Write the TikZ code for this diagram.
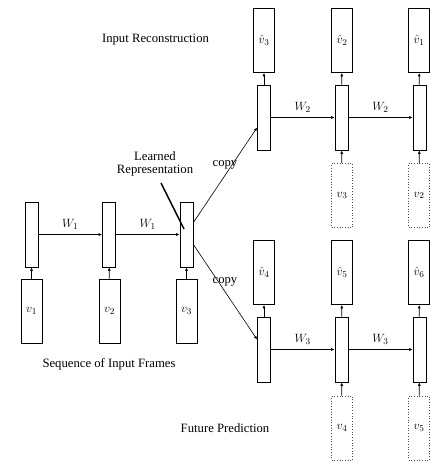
\documentclass[tikz,border=0pt]{standalone}
\usepackage{fontspec}
\setmainfont{Liberation Serif}
\usetikzlibrary{arrows.meta}
\begin{document}
\begin{tikzpicture}[x=1pt,y=-1pt,
  every node/.style={font=\fontsize{12.7}{14}\selectfont},
  hid/.style={draw, line width=0.8pt, minimum width=13pt, minimum height=65pt, inner sep=0pt},
  inp/.style={draw, line width=0.8pt, minimum width=21pt, minimum height=64pt, inner sep=0pt},
  fut/.style={draw=black!70, dotted, line width=0.7pt, minimum width=21pt, minimum height=64pt, inner sep=0pt},
  arr/.style={-{Latex[length=3.5pt,width=3pt]}, line width=0.6pt},
  lbl/.style={inner sep=0pt}]
\useasboundingbox (0,0) rectangle (442,465);
% left encoder
\node[hid] (h1) at (31.5,234.5) {};
\node[hid] (h2) at (109,234.5) {};
\node[hid] (h3) at (186.5,234.5) {};
\node[inp] (i1) at (31.5,311) {$v_1$};
\node[inp] (i2) at (109.5,311) {$v_2$};
\node[inp] (i3) at (186.5,311) {$v_3$};
\draw[arr] (i1) -- (h1);
\draw[arr] (i2) -- (h2);
\draw[arr] (i3) -- (h3);
\draw[arr] (h1) -- node[lbl, above=5pt] {$W_1$} (h2);
\draw[arr] (h2) -- node[lbl, above=5pt] {$W_1$} (h3);
\node[lbl, align=center] (lr) at (155,164) {Learned\\[-1pt]Representation};
\coordinate (lrs) at (161,183);
\coordinate (lre) at (184,229);
\draw[line width=1.5pt] (lrs) -- (lre);
\node[lbl] (seq) at (109,364) {Sequence of Input Frames};
% upper decoder
\node[hid] (u1) at (264,117.5) {};
\node[hid] (u2) at (341.5,117.5) {};
\node[hid] (u3) at (419.5,117.5) {};
\node[inp] (o1) at (264,40.5) {$\hat{v}_3$};
\node[inp] (o2) at (342,40.5) {$\hat{v}_2$};
\node[inp] (o3) at (419,40.5) {$\hat{v}_1$};
\node[fut] (d2) at (342,195.5) {$v_3$};
\node[fut] (d3) at (419,195.5) {$v_2$};
\draw[arr] (u1) -- (o1);
\draw[arr] (u2) -- (o2);
\draw[arr] (u3) -- (o3);
\draw[arr] (d2) -- (u2);
\draw[arr] (d3) -- (u3);
\draw[arr] (u1) -- node[lbl, above=5pt] {$W_2$} (u2);
\draw[arr] (u2) -- node[lbl, above=5pt] {$W_2$} (u3);
\node[lbl] (ir) at (155.5,40) {Input Reconstruction};
% lower predictor
\node[hid] (l1) at (264,349.5) {};
\node[hid] (l2) at (341.5,349.5) {};
\node[hid] (l3) at (419.5,349.5) {};
\node[inp] (p1) at (264,272.5) {$\hat{v}_4$};
\node[inp] (p2) at (342,272.5) {$\hat{v}_5$};
\node[inp] (p3) at (419,272.5) {$\hat{v}_6$};
\node[fut] (e2) at (342,428) {$v_4$};
\node[fut] (e3) at (419,428) {$v_5$};
\draw[arr] (l1) -- (p1);
\draw[arr] (l2) -- (p2);
\draw[arr] (l3) -- (p3);
\draw[arr] (e2) -- (l2);
\draw[arr] (e3) -- (l3);
\draw[arr] (l1) -- node[lbl, above=5pt] {$W_3$} (l2);
\draw[arr] (l2) -- node[lbl, above=5pt] {$W_3$} (l3);
\node[lbl] (fp) at (225,428) {Future Prediction};
% copy connectors
\draw[arr] ([yshift=12pt]h3.east) -- ([yshift=-10pt]u1.west);
\draw[arr] ([yshift=-10pt]h3.east) -- ([yshift=10pt]l1.west);
\node[lbl] (c1) at (225,165) {copy};
\node[lbl] (c2) at (225,282) {copy};
\end{tikzpicture}
\end{document}
